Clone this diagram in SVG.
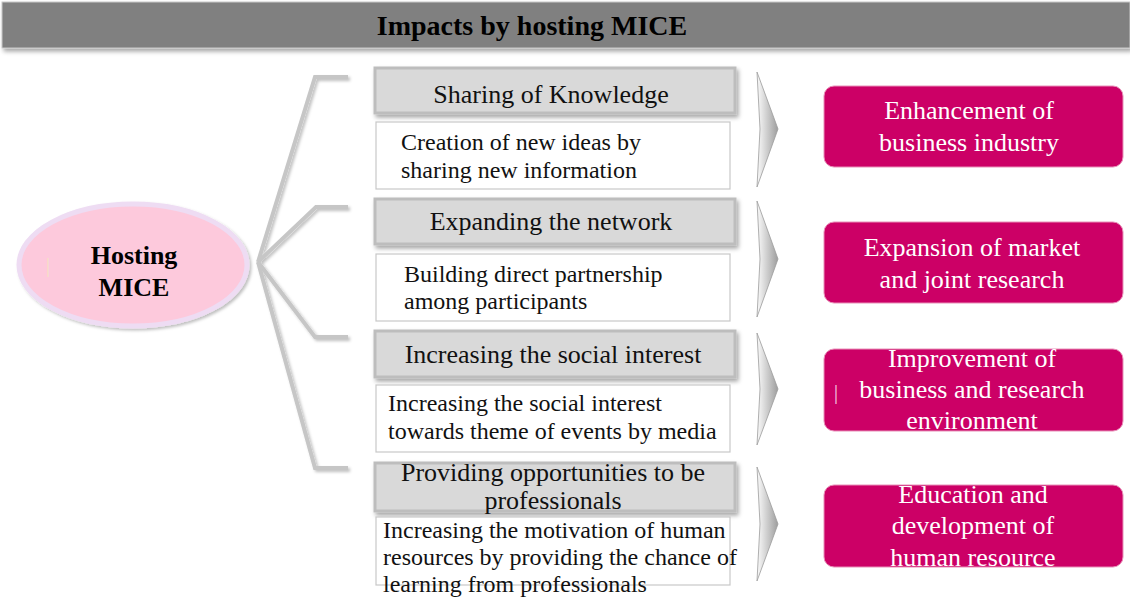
<svg xmlns="http://www.w3.org/2000/svg" width="1130" height="601" viewBox="0 0 1130 601">
  <style>
    .title { font-family: "Liberation Serif", "Times New Roman", serif; font-size: 28px; font-weight: bold; fill: #000; }
    .hub { font-family: "Liberation Serif", "Times New Roman", serif; font-size: 26px; font-weight: bold; fill: #000; text-anchor: middle; }
    .head { font-family: "Liberation Serif", "Times New Roman", serif; font-size: 26px; fill: #111; text-anchor: middle; }
    .body { font-family: "Liberation Serif", "Times New Roman", serif; font-size: 24px; fill: #111; }
    .res { font-family: "Liberation Serif", "Times New Roman", serif; font-size: 26px; fill: #fff; text-anchor: middle; }
    .hbox { fill: #d9d9d9; stroke: #bdbdbd; stroke-width: 3; }
    .tbox { fill: #fff; stroke: #c8c8c8; stroke-width: 1.2; }
    .pbox { fill: #cc0066; stroke: #e890b8; stroke-width: 1; }
    .bracket { fill: none; stroke: #c6c6c6; stroke-width: 4; stroke-linejoin: miter; }
    .chev { fill: url(#chevFill); stroke: #9c9c9c; stroke-width: 0.8; }
  </style>
  <defs>
    <filter id="shadow" x="-10%" y="-20%" width="125%" height="160%">
      <feDropShadow dx="2" dy="3" stdDeviation="2" flood-color="#000" flood-opacity="0.35"/>
    </filter>
    <filter id="softShadow" x="-10%" y="-10%" width="130%" height="130%">
      <feDropShadow dx="2" dy="2" stdDeviation="1.5" flood-color="#000" flood-opacity="0.25"/>
    </filter>
    <linearGradient id="chevFill" x1="0" y1="0" x2="1" y2="0">
      <stop offset="0" stop-color="#fbfbfb"/>
      <stop offset="1" stop-color="#9d9d9d"/>
    </linearGradient>
    <clipPath id="clipR4">
      <rect x="824" y="485" width="299" height="82" rx="10"/>
    </clipPath>
  </defs>

  <!-- title bar -->
  <g id="title">
    <rect x="2" y="2" width="1128" height="46" fill="#808080" stroke="#c8c8c8" stroke-width="1" filter="url(#shadow)"/>
    <text class="title" x="532" y="35" text-anchor="middle">Impacts by hosting MICE</text>
  </g>

  <!-- connectors: branching brackets and chevrons -->
  <g id="connectors">
    <g filter="url(#softShadow)">
      <polyline class="bracket" points="258,262 315,77 348,77"/>
      <polyline class="bracket" points="258,262 316,207 348,207"/>
      <polyline class="bracket" points="258,262 315,337 348,337"/>
      <polyline class="bracket" points="258,262 315,468 348,468"/>
    </g>
    <path class="chev" d="M757,72 L778,129 L757,187 L760,129 Z"/>
    <path class="chev" d="M757,201 L778,259 L757,317 L760,259 Z"/>
    <path class="chev" d="M757,333 L778,389 L757,445 L760,389 Z"/>
    <path class="chev" d="M757,467 L778,524 L757,581 L760,524 Z"/>
  </g>

  <!-- central node -->
  <g id="hub">
    <ellipse cx="133" cy="265" rx="114" ry="61" fill="#fdc9dc" stroke="#eedcf3" stroke-width="5" filter="url(#softShadow)"/>
    <text class="hub" x="134" y="264">Hosting</text>
    <text class="hub" x="134" y="296">MICE</text>
    <text x="46" y="272" font-family="Liberation Serif, serif" font-size="20" fill="#f3e3c4">|</text>
  </g>

  <!-- impact 1 -->
  <g id="impact1">
    <rect class="hbox" x="375" y="68" width="360" height="45" filter="url(#shadow)"/>
    <text class="head" x="551" y="103">Sharing of Knowledge</text>
    <rect class="tbox" x="376" y="122" width="354" height="67"/>
    <text class="body" x="401" y="150">Creation of new ideas by</text>
    <text class="body" x="401" y="178">sharing new information</text>
  </g>

  <!-- impact 2 -->
  <g id="impact2">
    <rect class="hbox" x="375" y="199" width="360" height="45" filter="url(#shadow)"/>
    <text class="head" x="551" y="230">Expanding the network</text>
    <rect class="tbox" x="376" y="254" width="354" height="67"/>
    <text class="body" x="404" y="282">Building direct partnership</text>
    <text class="body" x="404" y="309">among participants</text>
  </g>

  <!-- impact 3 -->
  <g id="impact3">
    <rect class="hbox" x="375" y="331" width="360" height="46" filter="url(#shadow)"/>
    <text class="head" x="553" y="363">Increasing the social interest</text>
    <rect class="tbox" x="376" y="385" width="354" height="67"/>
    <text class="body" x="388" y="411">Increasing the social interest</text>
    <text class="body" x="388" y="439">towards theme of events by media</text>
  </g>

  <!-- impact 4 -->
  <g id="impact4">
    <rect class="hbox" x="375" y="463" width="360" height="48" filter="url(#shadow)"/>
    <text class="head" x="553" y="481">Providing opportunities to be</text>
    <text class="head" x="553" y="509">professionals</text>
    <rect class="tbox" x="376" y="517" width="354" height="68"/>
    <text class="body" x="383" y="538">Increasing the motivation of human</text>
    <text class="body" x="383" y="565">resources by providing the chance of</text>
    <text class="body" x="383" y="592">learning from professionals</text>
  </g>

  <!-- results -->
  <g id="result1">
    <rect class="pbox" x="824" y="86" width="299" height="81" rx="10"/>
    <text class="res" x="969" y="119">Enhancement of</text>
    <text class="res" x="969" y="151">business industry</text>
  </g>
  <g id="result2">
    <rect class="pbox" x="824" y="222" width="299" height="81" rx="10"/>
    <text class="res" x="972" y="256">Expansion of market</text>
    <text class="res" x="972" y="288">and joint research</text>
  </g>
  <g id="result3">
    <rect class="pbox" x="824" y="349" width="299" height="82" rx="10"/>
    <text class="res" x="972" y="367">Improvement of</text>
    <text class="res" x="972" y="398">business and research</text>
    <text class="res" x="972" y="429">environment</text>
    <text x="834" y="399" font-family="Liberation Serif, serif" font-size="20" fill="#f8d6e6">|</text>
  </g>
  <g id="result4">
    <rect class="pbox" x="824" y="485" width="299" height="82" rx="10"/>
    <g clip-path="url(#clipR4)">
      <text class="res" x="973" y="503">Education and</text>
      <text class="res" x="973" y="534">development of</text>
      <text class="res" x="973" y="566">human resource</text>
    </g>
  </g>
</svg>
